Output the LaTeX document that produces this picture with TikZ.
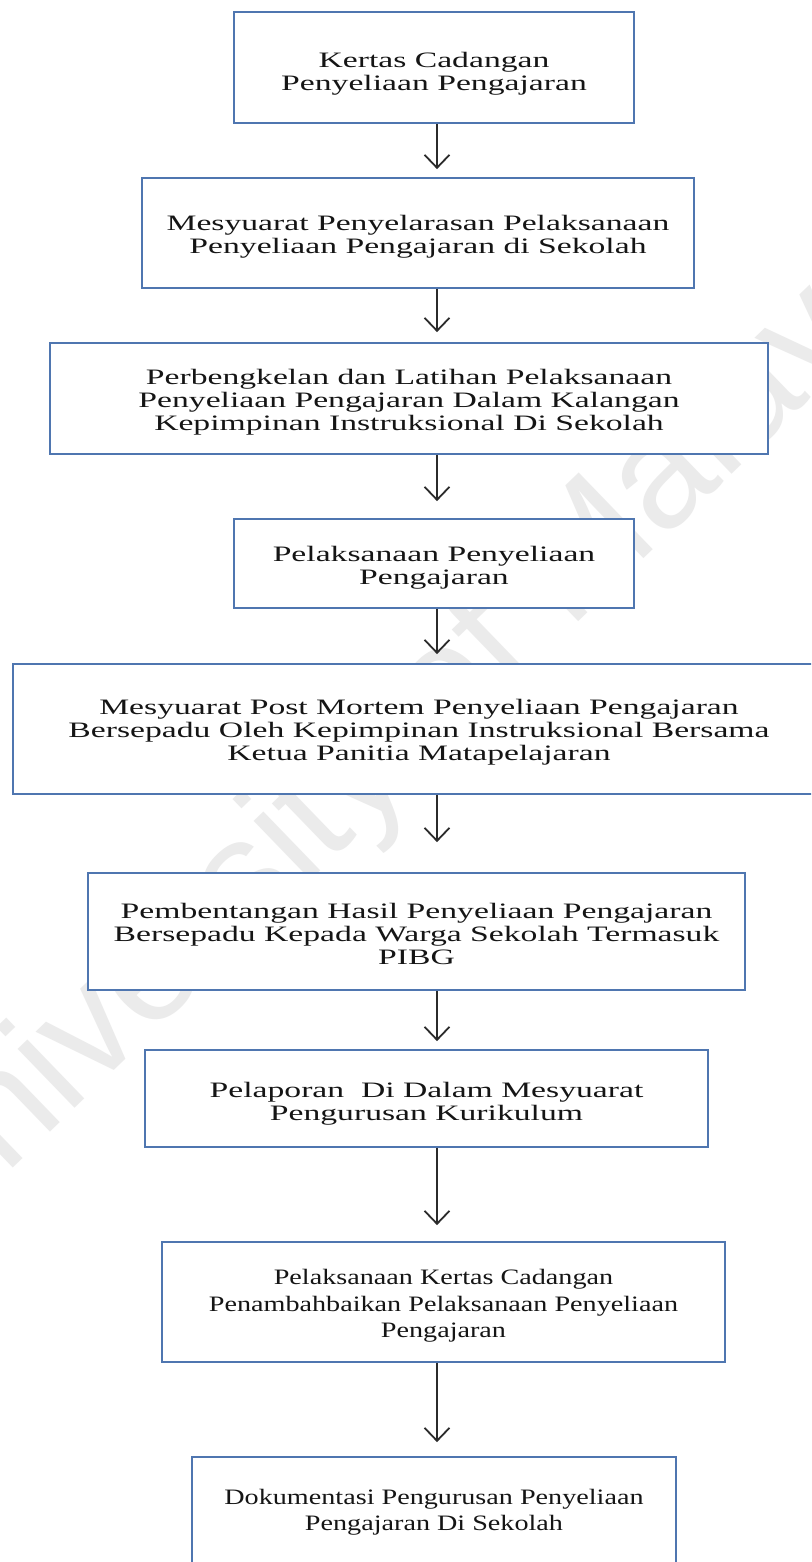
\documentclass[tikz,border=0pt]{standalone}
\usepackage{fontspec}
\setmainfont{Liberation Serif}[FakeStretch=1.53]
\newfontfamily\narrowserif{Liberation Serif}[FakeStretch=1.28]
\newfontfamily\wmfont{Liberation Sans}
\usetikzlibrary{arrows.meta}
\definecolor{boxline}{HTML}{4F76B0}
\definecolor{arrowline}{HTML}{2B2B2B}
\definecolor{inktext}{HTML}{151515}
\definecolor{wmgray}{HTML}{EBEBEB}
\tikzset{
  flowbox/.style={draw=boxline, line width=1.8pt, fill=white, rectangle,
    inner sep=0pt},
  flowtext/.style={inner sep=0pt, align=center, text=inktext,
    font=\fontsize{22}{23}\selectfont},
  flowtextnarrow/.style={flowtext, font=\fontsize{22}{26.5}\selectfont\narrowserif},
  flowarrow/.style={draw=arrowline, line width=1.8pt,
    -{Straight Barb[length=13pt,width=25pt,line width=1.8pt]}},
  watermark/.style={text=wmgray, inner sep=0pt,
    font=\fontsize{155}{155}\selectfont\wmfont}
}
\begin{document}
\begin{tikzpicture}[x=1pt, y=-1pt]
\useasboundingbox (0,0) rectangle (811,1562);
\clip (0,0) rectangle (811,1562);
\fill[white] (0,0) rectangle (811,1562);

% faint watermark behind the chart
\node[watermark, rotate=44, anchor=base west] (wm) at (-75,1253) {University of Malaya};

% process boxes
\node[flowbox, minimum width=400pt, minimum height=111pt] (b1) at (434,67.5) {};
\node[flowbox, minimum width=552pt, minimum height=110pt] (b2) at (418,233) {};
\node[flowbox, minimum width=718pt, minimum height=111pt] (b3) at (409,398.5) {};
\node[flowbox, minimum width=400pt, minimum height=89pt] (b4) at (434,563.5) {};
\node[flowbox, minimum width=812pt, minimum height=130pt] (b5) at (419,729) {};
\node[flowbox, minimum width=657pt, minimum height=117pt] (b6) at (416.5,931.5) {};
\node[flowbox, minimum width=563pt, minimum height=97pt] (b7) at (426.5,1098.5) {};
\node[flowbox, minimum width=563pt, minimum height=120pt] (b8) at (443.5,1302) {};
\node[flowbox, minimum width=484pt, minimum height=108pt] (b9) at (434,1511) {};

% step labels
\node[flowtext] (t1) at ([yshift=-6pt]b1.center)
  {Kertas Cadangan\\Penyeliaan Pengajaran};
\node[flowtext] (t2) at ([yshift=-4pt]b2.center)
  {Mesyuarat Penyelarasan Pelaksanaan\\Penyeliaan Pengajaran di Sekolah};
\node[flowtext] (t3) at ([yshift=-4pt]b3.center)
  {Perbengkelan dan Latihan Pelaksanaan\\Penyeliaan Pengajaran Dalam Kalangan\\Kepimpinan Instruksional Di Sekolah};
\node[flowtext] (t4) at ([yshift=-4pt]b4.center)
  {Pelaksanaan Penyeliaan\\Pengajaran};
\node[flowtext] (t5) at ([yshift=-3pt]b5.center)
  {Mesyuarat Post Mortem Penyeliaan Pengajaran\\Bersepadu Oleh Kepimpinan Instruksional Bersama\\Ketua Panitia Matapelajaran};
\node[flowtext] (t6) at ([yshift=-2pt]b6.center)
  {Pembentangan Hasil Penyeliaan Pengajaran\\Bersepadu Kepada Warga Sekolah Termasuk\\PIBG};
\node[flowtext] (t7) at ([yshift=-5pt]b7.center)
  {Pelaporan\ \ Di Dalam Mesyuarat\\Pengurusan Kurikulum};
\node[flowtextnarrow] (t8) at ([yshift=-4pt]b8.center)
  {Pelaksanaan Kertas Cadangan\\Penambahbaikan Pelaksanaan Penyeliaan\\Pengajaran};
\node[flowtextnarrow] (t9) at ([yshift=-1pt]b9.center)
  {Dokumentasi Pengurusan Penyeliaan\\Pengajaran Di Sekolah};

% common arrow axis
\coordinate (ax) at (437,0);

% connectors
\draw[flowarrow] (b1.south -| ax) -- ([yshift=8pt]b2.north -| ax);
\draw[flowarrow] (b2.south -| ax) -- ([yshift=10pt]b3.north -| ax);
\draw[flowarrow] (b3.south -| ax) -- ([yshift=17pt]b4.north -| ax);
\draw[flowarrow] (b4.south -| ax) -- ([yshift=9pt]b5.north -| ax);
\draw[flowarrow] (b5.south -| ax) -- ([yshift=30pt]b6.north -| ax);
\draw[flowarrow] (b6.south -| ax) -- ([yshift=8pt]b7.north -| ax);
\draw[flowarrow] (b7.south -| ax) -- ([yshift=16pt]b8.north -| ax);
\draw[flowarrow] (b8.south -| ax) -- ([yshift=14pt]b9.north -| ax);
\end{tikzpicture}
\end{document}
